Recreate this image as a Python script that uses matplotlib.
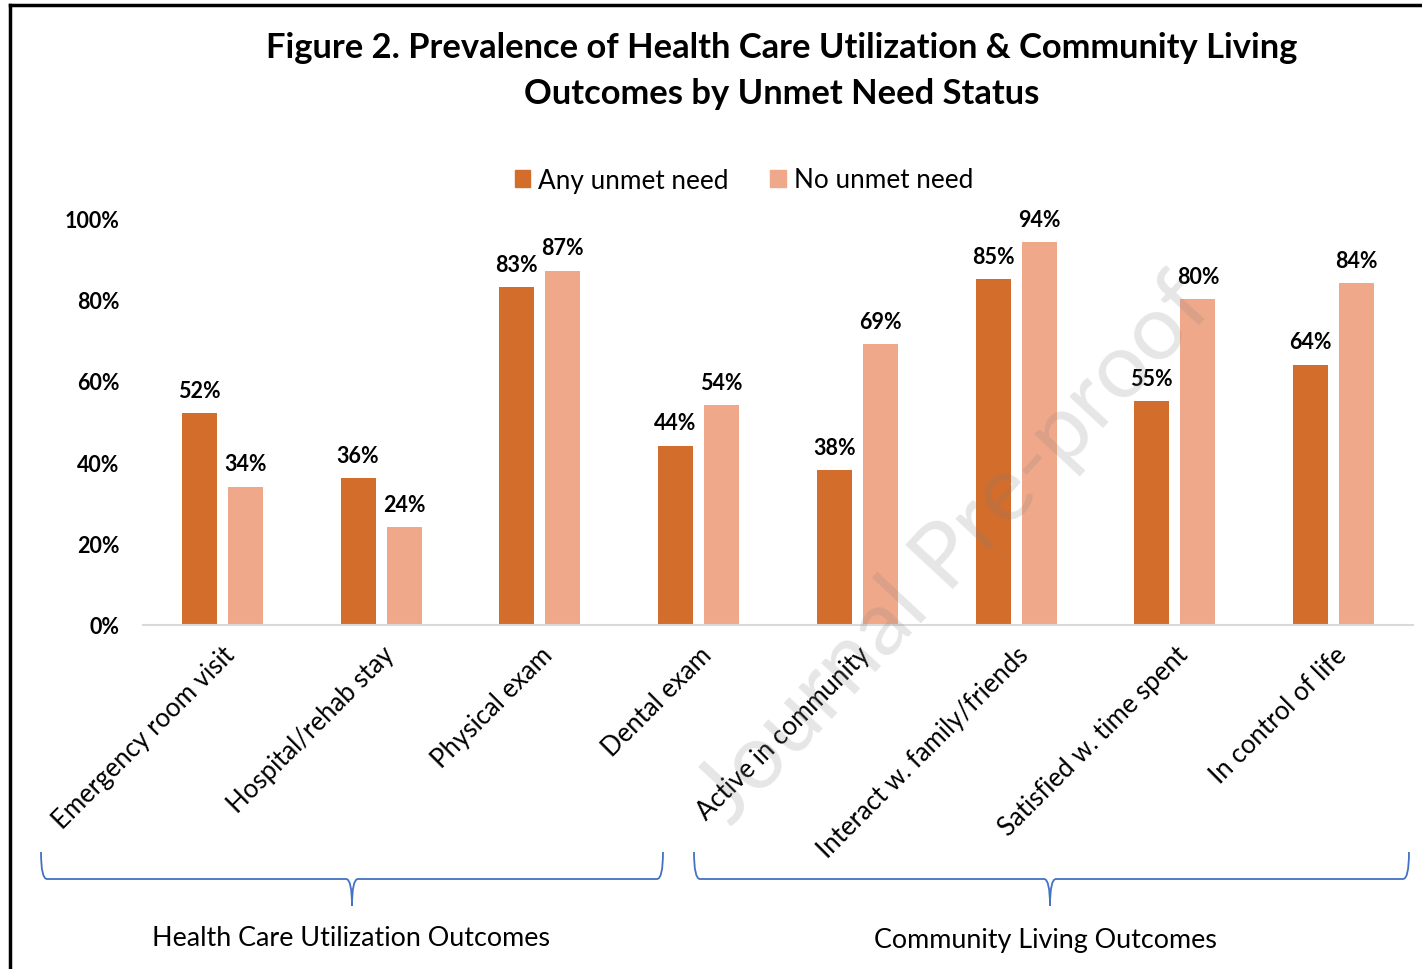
import matplotlib
matplotlib.use("Agg")
import matplotlib.pyplot as plt
import numpy as np
from matplotlib.patches import Patch, PathPatch
from matplotlib.path import Path
from matplotlib.lines import Line2D

plt.rcParams['font.family'] = ['Lato', 'DejaVu Sans']

categories = ["Emergency room visit", "Hospital/rehab stay", "Physical exam", "Dental exam",
              "Active in community", "Interact w. family/friends", "Satisfied w. time spent",
              "In control of life"]
any_unmet = [52, 36, 83, 44, 38, 85, 55, 64]
no_unmet = [34, 24, 87, 54, 69, 94, 80, 84]
series_names = ["Any unmet need", "No unmet need"]
group_names = ["Health Care Utilization Outcomes", "Community Living Outcomes"]
y_ticks = [0, 20, 40, 60, 80, 100]

dark = "#D36D2B"
light = "#F0A88A"
W, H = 1422, 970

fig = plt.figure(figsize=(W / 100, H / 100), dpi=100)

def fx(px):
    return px / W

def fy(py):
    return 1 - py / H

ax = fig.add_axes([fx(143), fy(626), fx(1413) - fx(143), fy(219) - fy(626)])
x = np.arange(len(categories))
bw = 0.22
off = 0.145
b1 = ax.bar(x - off, any_unmet, bw, color=dark, zorder=2)
b2 = ax.bar(x + off, no_unmet, bw, color=light, zorder=2)

for bars, vals in [(b1, any_unmet), (b2, no_unmet)]:
    for b, v in zip(bars, vals):
        ax.annotate("{}%".format(v), (b.get_x() + b.get_width() / 2, v),
                    xytext=(0, 9), textcoords="offset points", ha="center", va="bottom",
                    fontsize=15.5, fontweight="bold", annotation_clip=False)

ax.set_xlim(-0.5, len(categories) - 0.5)
ax.set_ylim(0, 100)
ax.set_yticks(y_ticks)
ax.set_yticklabels(["{}%".format(t) for t in y_ticks], fontsize=15.5, fontweight="bold")
ax.set_xticks(x)
ax.set_xticklabels(categories, rotation=45, ha="right", rotation_mode="anchor", fontsize=18.5)
ax.tick_params(axis="both", length=0)
ax.tick_params(axis="y", pad=17)
ax.tick_params(axis="x", pad=12)
for s in ["top", "right", "left"]:
    ax.spines[s].set_visible(False)
ax.spines["bottom"].set_color("#D9D9D9")
ax.spines["bottom"].set_linewidth(1.5)

# title
fig.text(fx(782), fy(48), "Figure 2. Prevalence of Health Care Utilization & Community Living",
         ha="center", va="center", fontsize=24.8, fontweight="bold")
fig.text(fx(782), fy(94), "Outcomes by Unmet Need Status",
         ha="center", va="center", fontsize=24.8, fontweight="bold")

# legend
handles = [Patch(color=dark, label=series_names[0]), Patch(color=light, label=series_names[1])]
fig.legend(handles=handles, loc="center", bbox_to_anchor=(fx(744), fy(181)), ncol=2,
           frameon=False, fontsize=18.8, handlelength=0.6, handleheight=0.6,
           handletextpad=0.3, columnspacing=1.6)

# watermark
fig.text(fx(955), fy(550), "Journal Pre-proof", rotation=47, ha="center", va="center",
         fontsize=66, color="#808080", alpha=0.2, zorder=5)

# braces
def brace(x0, x1, xm):
    top, mid, tip, r = fy(853), fy(880), fy(907), 6
    verts = [(fx(x0), top), (fx(x0), mid), (fx(x0 + r), mid),
             (fx(xm - r), mid), (fx(xm), mid), (fx(xm), tip),
             (fx(xm), mid), (fx(xm + r), mid),
             (fx(x1 - r), mid), (fx(x1), mid), (fx(x1), top)]
    codes = [Path.MOVETO, Path.CURVE3, Path.CURVE3,
             Path.LINETO, Path.CURVE3, Path.CURVE3,
             Path.CURVE3, Path.CURVE3,
             Path.LINETO, Path.CURVE3, Path.CURVE3]
    fig.patches.append(PathPatch(Path(verts, codes), transform=fig.transFigure,
                                 fill=False, edgecolor="#4472C4", linewidth=1.3))

brace(41, 663, 352)
brace(694, 1409, 1050)
fig.text(fx(351), fy(939), group_names[0], ha="center", va="center", fontsize=19.4)
fig.text(fx(1045), fy(941), group_names[1], ha="center", va="center", fontsize=19.4)

# frame
fig.add_artist(Line2D([fx(10), fx(10)], [0, fy(6)], color="black", linewidth=2.5, transform=fig.transFigure))
fig.add_artist(Line2D([fx(10), 1], [fy(6), fy(6)], color="black", linewidth=2.5, transform=fig.transFigure))

fig.savefig("out.png", dpi=100, facecolor="white")
